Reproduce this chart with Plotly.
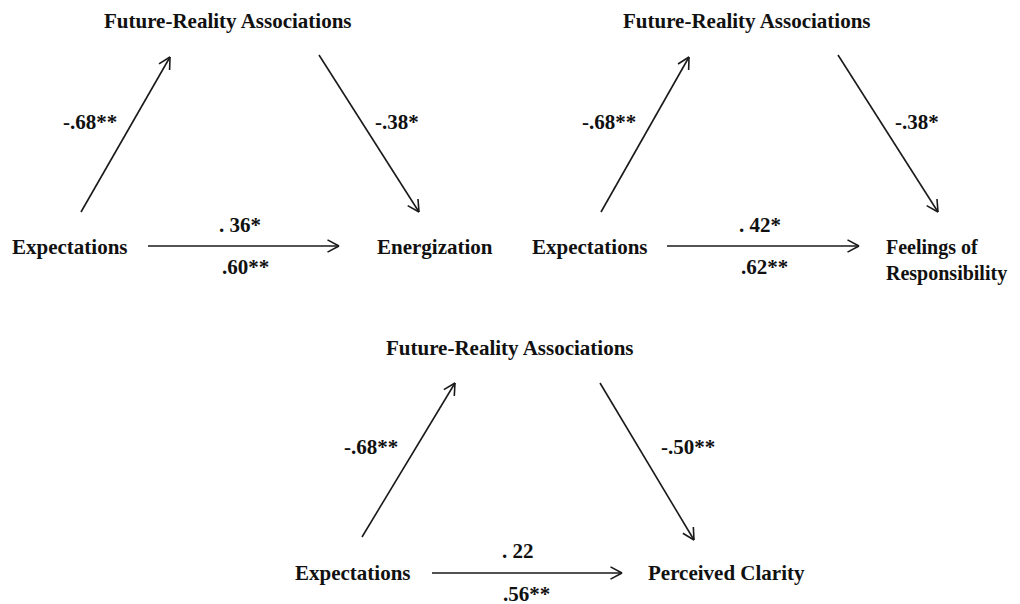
import math
import plotly.graph_objects as go

# ---- data (text content of the three mediation diagrams) ----
mediator_labels = ["Future-Reality Associations"] * 3
predictor_labels = ["Expectations"] * 3
outcome_labels = ["Energization", "Feelings of<br>Responsibility", "Perceived Clarity"]
path_a = ["-.68**", "-.68**", "-.68**"]
path_b = ["-.38*", "-.38*", "-.50**"]
path_c_direct = [". 36*", ". 42*", ". 22"]
path_c_total = [".60**", ".62**", ".56**"]

# ---- layout positions (pixels in a 1020x604 canvas) ----
med_pos = [(228, 21), (747, 21), (510, 348)]
pred_pos = [(70, 247), (590, 247), (353, 573)]
out_pos = [(435, 247), (884, 260), (726, 573)]
out_anchor = ["center", "left", "center"]
out_size = [21, 20, 21]
a_arrow = [((81, 212), (170, 57)), ((601, 212), (689, 57)), ((362, 537), (455, 383))]
b_arrow = [((319, 55), (419, 212)), ((838, 55), (938, 212)), ((600, 383), (694, 540))]
c_arrow = [((148, 246), (339, 246)), ((667, 246), (859, 246)), ((432, 573), (622, 573))]
a_lab_pos = [(90, 122), (609, 122), (371, 447)]
b_lab_pos = [(397, 122), (917, 122), (688, 447)]
c1_lab_pos = [(240, 225), (760, 225), (518, 551)]
c2_lab_pos = [(245, 267), (764, 267), (526, 594)]

FAMILY = "Liberation Serif, Times New Roman, serif"
TEXT_COLOR = "#111111"
LINE_COLOR = "#1a1a1a"
HEAD_LEN = 13
HEAD_ANG = math.radians(28)
PAGE_OFFSET = 8  # default page body margin in the browser


def arrow_xy(p0, p1):
    xs, ys = [p0[0], p1[0], None], [p0[1], p1[1], None]
    ang = math.atan2(p1[1] - p0[1], p1[0] - p0[0])
    for s in (1, -1):
        a = ang + math.pi + s * HEAD_ANG
        xs += [p1[0], p1[0] + HEAD_LEN * math.cos(a), None]
        ys += [p1[1], p1[1] + HEAD_LEN * math.sin(a), None]
    return xs, ys


fig = go.Figure()
X, Y = [], []
for arrows in (a_arrow, b_arrow, c_arrow):
    for p0, p1 in arrows:
        xs, ys = arrow_xy(p0, p1)
        X += xs
        Y += ys
fig.add_trace(go.Scatter(x=X, y=Y, mode="lines", line=dict(color=LINE_COLOR, width=1.6),
                         hoverinfo="skip", showlegend=False))

ann = []


def label(text, pos, anchor="center", align="center", size=21):
    ann.append(dict(x=pos[0], y=pos[1], text=f"<b>{text}</b>", showarrow=False,
                    xanchor=anchor, yanchor="middle", align=align,
                    font=dict(family=FAMILY, size=size, color=TEXT_COLOR),
                    xref="x", yref="y"))


for i in range(3):
    label(mediator_labels[i], med_pos[i])
    label(predictor_labels[i], pred_pos[i])
    label(outcome_labels[i], out_pos[i], out_anchor[i],
          "left" if out_anchor[i] == "left" else "center", out_size[i])
    label(path_a[i], a_lab_pos[i])
    label(path_b[i], b_lab_pos[i])
    label(path_c_direct[i], c1_lab_pos[i])
    label(path_c_total[i], c2_lab_pos[i])

fig.update_layout(
    width=1020, height=604,
    margin=dict(l=0, r=0, t=0, b=0),
    paper_bgcolor="white", plot_bgcolor="white",
    xaxis=dict(range=[PAGE_OFFSET, 1020 + PAGE_OFFSET], visible=False, fixedrange=True),
    yaxis=dict(range=[604 + PAGE_OFFSET, PAGE_OFFSET], visible=False, fixedrange=True),
    annotations=ann,
)
fig.write_html("out.html")
